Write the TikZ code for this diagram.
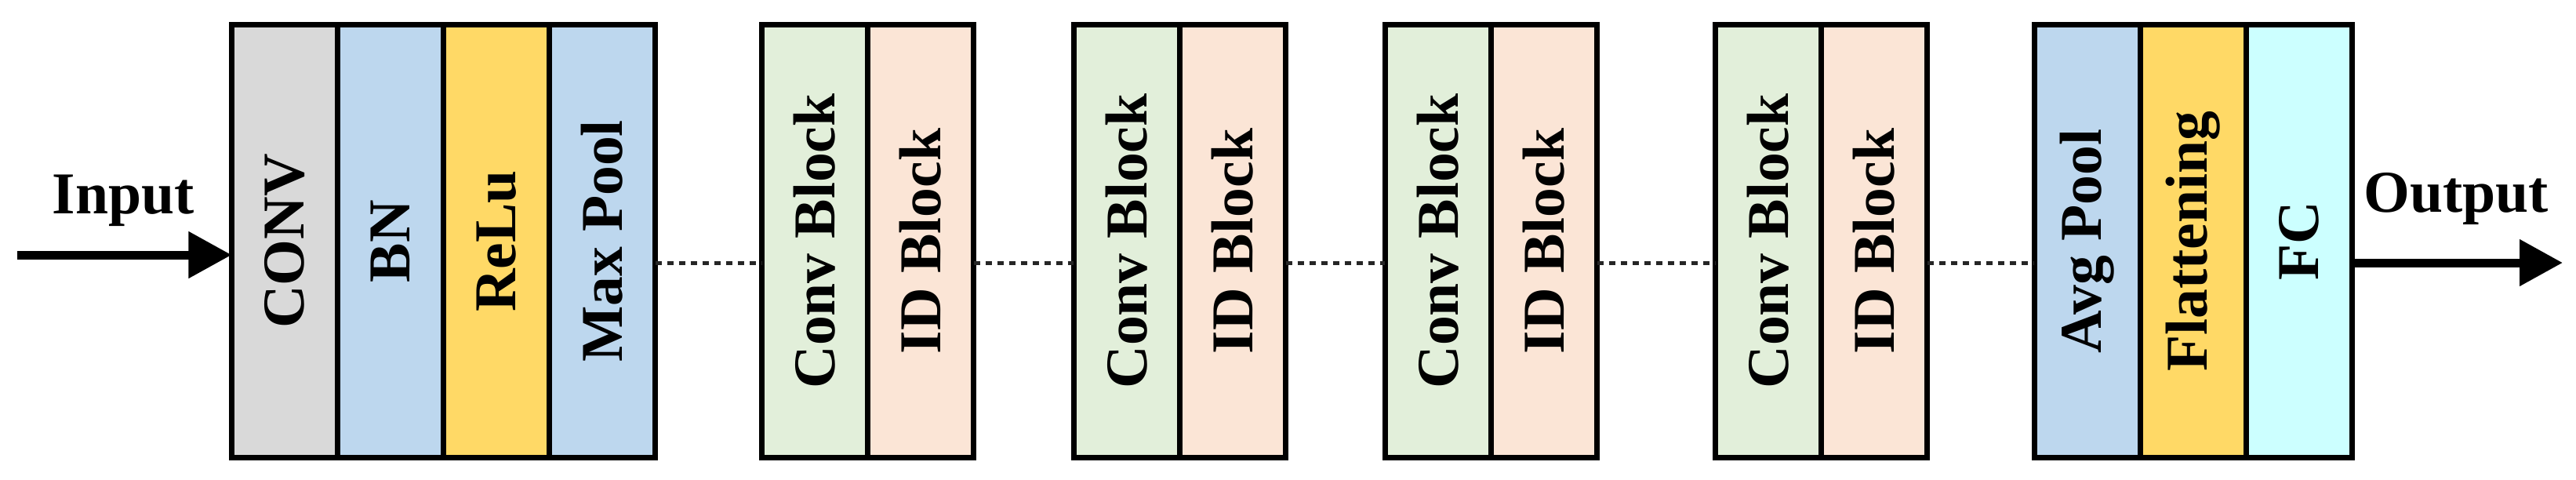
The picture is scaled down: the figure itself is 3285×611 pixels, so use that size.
\documentclass[tikz,border=0pt]{standalone}
\usepackage{fontspec}
\setmainfont{Liberation Serif}
\usetikzlibrary{arrows.meta}
\definecolor{cgray}{HTML}{D9D9D9}
\definecolor{cblue}{HTML}{BDD7EE}
\definecolor{cyell}{HTML}{FFD966}
\definecolor{cgreen}{HTML}{E2EFDA}
\definecolor{corange}{HTML}{FBE5D6}
\definecolor{ccyan}{HTML}{CCFFFF}
\tikzset{
  col/.style={draw=black, line width=0.07cm, minimum width=1.35cm, minimum height=5.52cm, inner sep=0pt, outer sep=0pt},
  lbl/.style={rotate=90, font=\fontsize{21.5}{25}\selectfont\bfseries, inner sep=0pt},
  io/.style={font=\fontsize{21.5}{25}\selectfont\bfseries, anchor=base, inner sep=0pt},
  bigarrow/.style={line width=0.11cm, -{Triangle[length=0.55cm, width=0.57cm]}},
  dotline/.style={line width=0.05cm, dash pattern=on 0.08cm off 0.07cm, black!85}
}
\begin{document}
\begin{tikzpicture}[x=0.01cm, y=-0.01cm]
\useasboundingbox (0,0) rectangle (3285,611);
% group 1
\node[col, fill=cgray,  label={[lbl]center:CONV}]     (conv) at (363,307.5) {};
\node[col, fill=cblue,  label={[lbl]center:BN}]       (bn)   at (498,307.5) {};
\node[col, fill=cyell,  label={[lbl]center:ReLu}]     (relu) at (633,307.5) {};
\node[col, fill=cblue,  label={[lbl]center:Max Pool}] (mp)   at (768,307.5) {};
% group 2
\node[col, fill=cgreen,  label={[lbl]center:Conv Block}] (cb1) at (1039,307.5) {};
\node[col, fill=corange, label={[lbl]center:ID Block}]   (id1) at (1174,307.5) {};
% group 3
\node[col, fill=cgreen,  label={[lbl]center:Conv Block}] (cb2) at (1437,307.5) {};
\node[col, fill=corange, label={[lbl]center:ID Block}]   (id2) at (1572,307.5) {};
% group 4
\node[col, fill=cgreen,  label={[lbl]center:Conv Block}] (cb3) at (1834,307.5) {};
\node[col, fill=corange, label={[lbl]center:ID Block}]   (id3) at (1969,307.5) {};
% group 5
\node[col, fill=cgreen,  label={[lbl]center:Conv Block}] (cb4) at (2255,307.5) {};
\node[col, fill=corange, label={[lbl]center:ID Block}]   (id4) at (2390,307.5) {};
% group 6
\node[col, fill=cblue, label={[lbl]center:Avg Pool}]   (ap)  at (2662,307.5) {};
\node[col, fill=cyell, label={[lbl]center:Flattening}] (fl)  at (2797,307.5) {};
\node[col, fill=ccyan, label={[lbl]center:FC}]         (fc)  at (2932,307.5) {};
% texts
\node[io] (intext)  at (157,272)  {Input};
\node[io] (outtext) at (3132,270) {Output};
% coordinates
\coordinate (inS) at (22,325);
\coordinate (outE) at (3268,335);
\coordinate (lvl) at (0,335);
% arrows
\draw[bigarrow] (inS) -- (inS -| conv.west);
\draw[bigarrow] (outE -| fc.east) -- (outE);
% dotted connectors
\draw[dotline] (mp.east |- lvl) -- (cb1.west |- lvl);
\draw[dotline] (id1.east |- lvl) -- (cb2.west |- lvl);
\draw[dotline] (id2.east |- lvl) -- (cb3.west |- lvl);
\draw[dotline] (id3.east |- lvl) -- (cb4.west |- lvl);
\draw[dotline] (id4.east |- lvl) -- (ap.west |- lvl);
\end{tikzpicture}
\end{document}
